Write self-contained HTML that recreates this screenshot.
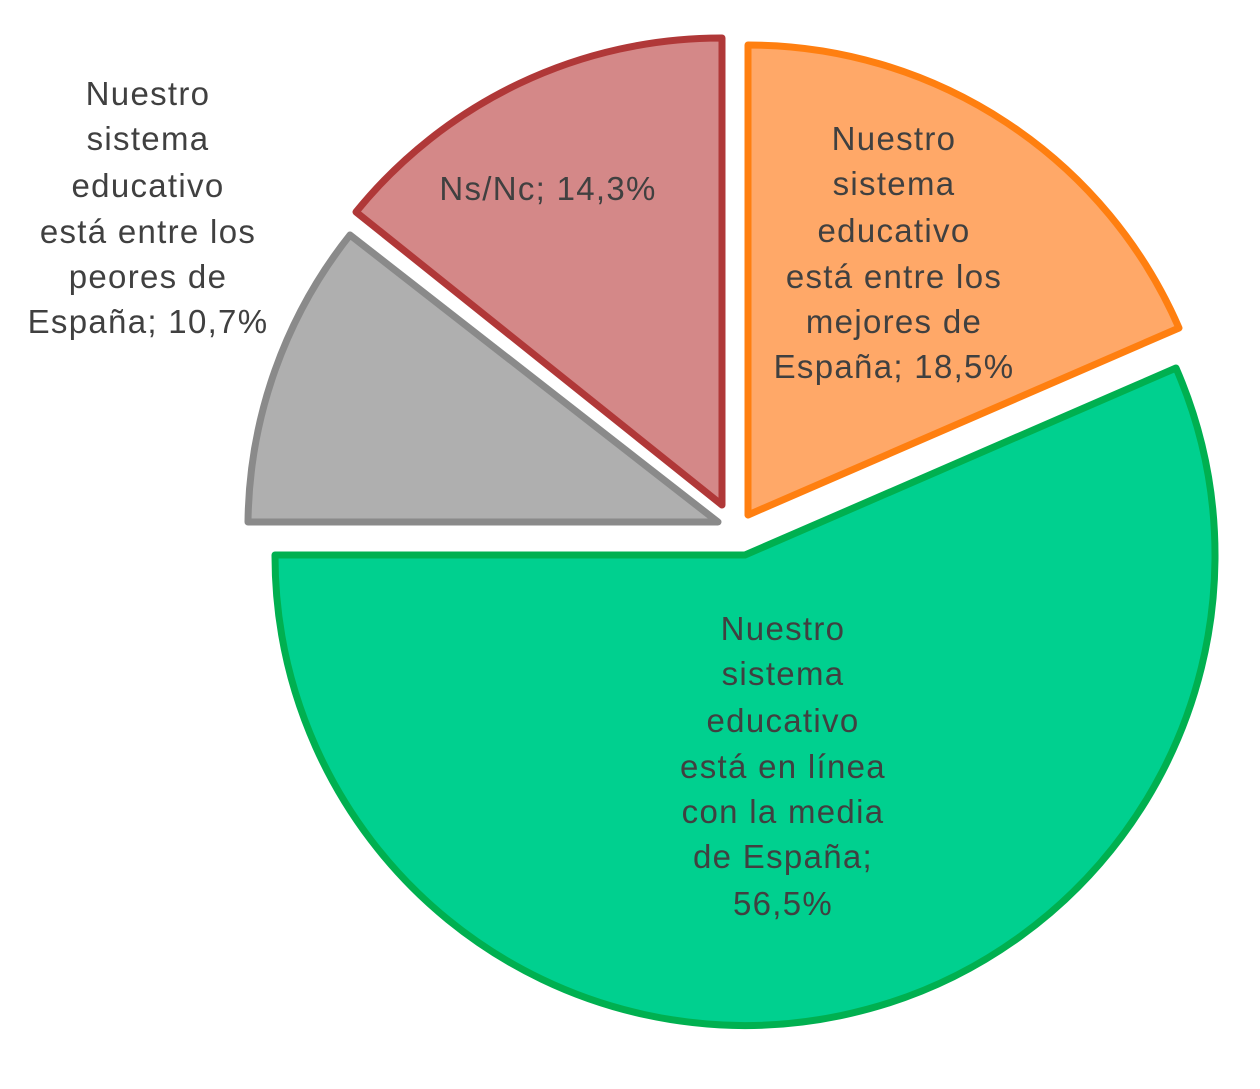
<!DOCTYPE html>
<html><head><meta charset="utf-8"><style>
html,body{margin:0;padding:0;background:#fff;}
svg text{font-family:"Liberation Sans",sans-serif;font-size:33px;letter-spacing:1.3px;fill:#404040;text-anchor:middle;}
</style></head><body>
<svg width="1260" height="1084" viewBox="0 0 1260 1084" xmlns="http://www.w3.org/2000/svg">
<path d="M748,515 L748,45 A470,470 0 0 1 1179,328 Z" fill="#FFA868" stroke="#FF7F10" stroke-width="7" stroke-linejoin="round"/>
<path d="M745,555 L1176,368 A470,470 0 1 1 275,555 Z" fill="#00D08F" stroke="#00B050" stroke-width="7" stroke-linejoin="round"/>
<path d="M718,522 L248,522 A470,470 0 0 1 350,235 Z" fill="#AFAFAF" stroke="#8A8A8A" stroke-width="7" stroke-linejoin="round"/>
<path d="M722,505 L356,212 A470,470 0 0 1 722,38 Z" fill="#D48888" stroke="#B03838" stroke-width="7" stroke-linejoin="round"/>
<text x="148" y="105">Nuestro</text>
<text x="148" y="150">sistema</text>
<text x="148" y="197">educativo</text>
<text x="148" y="243">está entre los</text>
<text x="148" y="288">peores de</text>
<text x="148" y="333">España; 10,7%</text>
<text x="548" y="200">Ns/Nc; 14,3%</text>
<text x="894" y="150">Nuestro</text>
<text x="894" y="195">sistema</text>
<text x="894" y="242">educativo</text>
<text x="894" y="288">está entre los</text>
<text x="894" y="333">mejores de</text>
<text x="894" y="378">España; 18,5%</text>
<text x="783" y="640">Nuestro</text>
<text x="783" y="685">sistema</text>
<text x="783" y="732">educativo</text>
<text x="783" y="778">está en línea</text>
<text x="783" y="823">con la media</text>
<text x="783" y="868">de España;</text>
<text x="783" y="915">56,5%</text>
</svg>
</body></html>
